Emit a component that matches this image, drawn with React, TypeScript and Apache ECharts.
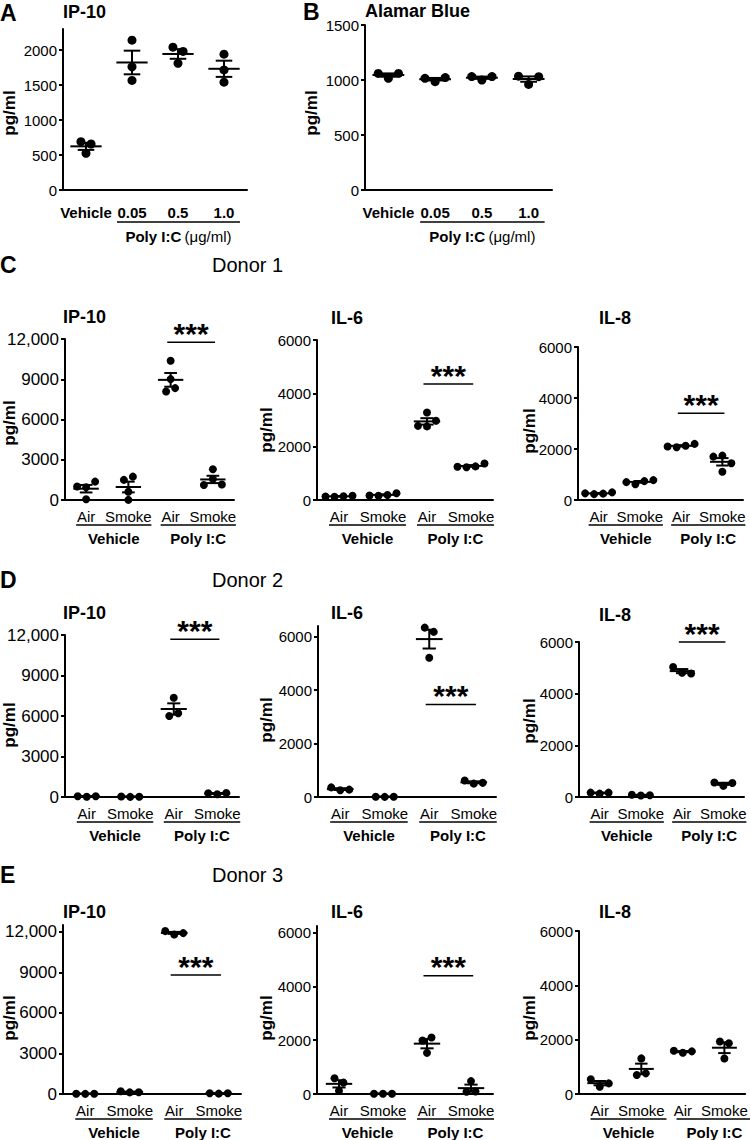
import React, { useEffect, useRef } from "react";
import * as echarts from "echarts";

// ---------- categories & tick labels ----------
const doseCategories = ["Vehicle", "0.05", "0.5", "1.0"];
const exposureCategories = ["Air", "Smoke", "Air", "Smoke"];
const treatmentGroups = ["Vehicle", "Poly I:C"];
const doseGroupLabelBold = "Poly I:C";
const doseGroupUnit = "(μg/ml)";

const ip10DoseTicks = [0, 500, 1000, 1500, 2000];
const alamarTicks = [0, 500, 1000, 1500];
const donorIP10Ticks = [0, 3000, 6000, 9000, 12000];
const donorILTicks = [0, 2000, 4000, 6000];

// ---------- values (pg/ml), one inner array per category ----------
const ip10DoseValues = [[524, 690, 657], [2140, 1760, 1565], [2040, 1980, 1810], [1940, 1715, 1540]];
const alamarBlueValues = [[1060, 1015, 1060], [1015, 985, 1022], [1031, 1000, 1031], [1035, 960, 1030]];

const donor1IP10 = [[1000, 950, 1370, 50], [1500, 1740, 620, 10], [10380, 9010, 8090, 8340], [2290, 1120, 1570, 1150]];
const donor1IL6 = [[130, 120, 140, 160], [170, 160, 190, 250], [3280, 2780, 2760, 2970], [1250, 1230, 1260, 1370]];
const donor1IL8 = [[260, 230, 250, 300], [700, 620, 740, 780], [2100, 2070, 2130, 2200], [1110, 1700, 1740, 1440]];

const donor2IP10 = [[60, 20, 50], [40, 10, 15], [7350, 6000, 6200], [280, 200, 300]];
const donor2IL6 = [[360, 250, 275], [10, 5, 10], [6340, 6180, 5210], [620, 500, 530]];
const donor2IL8 = [[170, 130, 170], [90, 60, 70], [5030, 4810, 4780], [560, 430, 540]];

const donor3IP10 = [[20, 10, 20], [200, 120, 130], [12050, 11800, 11900], [60, 30, 50]];
const donor3IL6 = [[125, 585, 423], [10, 10, 10], [1990, 2100, 1530], [85, 480, 90]];
const donor3IL8 = [[540, 270, 390], [1310, 700, 760], [1590, 1520, 1570], [1930, 1310, 1870]];

// significance bar heights (pg/ml), null = none
const donor1Sig = [11750, 4350, 3400];
const donor2Sig = [11680, 3460, 6000];
const donor3Sig = [8800, 4400, null];

const FONT = "'Liberation Sans', Arial, Helvetica, sans-serif";

type Panel = {
  values: number[][];
  cats: string[];
  ticks: number[];
  max: number;
  box: [number, number, number, number];
  title: string;
  titlePos: [number, number];
  yNamePos: [number, number];
  r: number;
  yFont: number;
  kind: "dose" | "exposure";
  sig: number | null;
  meanHalf: number;
  capHalf: number;
};

const panels: Panel[] = [
  { values: ip10DoseValues, cats: doseCategories, ticks: ip10DoseTicks, max: 2300, box: [63, 29, 184, 161], title: "IP-10", titlePos: [63, 12], yNamePos: [9, 113], r: 4.5, yFont: 15, kind: "dose", sig: null, meanHalf: 0.34, capHalf: 0.18 },
  { values: alamarBlueValues, cats: doseCategories, ticks: alamarTicks, max: 1500, box: [365, 25, 187, 165], title: "Alamar Blue", titlePos: [365, 11], yNamePos: [311, 113], r: 4.5, yFont: 15, kind: "dose", sig: null, meanHalf: 0.34, capHalf: 0.18 },

  { values: donor1IP10, cats: exposureCategories, ticks: donorIP10Ticks, max: 12000, box: [65, 339, 169, 161], title: "IP-10", titlePos: [63, 317], yNamePos: [9, 423], r: 4, yFont: 17, kind: "exposure", sig: donor1Sig[0], meanHalf: 0.3, capHalf: 0.15 },
  { values: donor1IL6, cats: exposureCategories, ticks: donorILTicks, max: 6000, box: [317, 340, 176, 160], title: "IL-6", titlePos: [331, 318], yNamePos: [266, 430], r: 4, yFont: 15, kind: "exposure", sig: donor1Sig[1], meanHalf: 0.3, capHalf: 0.15 },
  { values: donor1IL8, cats: exposureCategories, ticks: donorILTicks, max: 6000, box: [578, 347, 165, 153], title: "IL-8", titlePos: [599, 318], yNamePos: [529, 431], r: 4, yFont: 15, kind: "exposure", sig: donor1Sig[2], meanHalf: 0.3, capHalf: 0.15 },

  { values: donor2IP10, cats: exposureCategories, ticks: donorIP10Ticks, max: 12000, box: [65, 635, 174, 162], title: "IP-10", titlePos: [63, 613], yNamePos: [9, 725], r: 4, yFont: 17, kind: "exposure", sig: donor2Sig[0], meanHalf: 0.3, capHalf: 0.15 },
  { values: donor2IL6, cats: exposureCategories, ticks: donorILTicks, max: 6400, box: [318, 626, 178, 171], title: "IL-6", titlePos: [331, 613], yNamePos: [266, 720], r: 4, yFont: 15, kind: "exposure", sig: donor2Sig[1], meanHalf: 0.3, capHalf: 0.15 },
  { values: donor2IL8, cats: exposureCategories, ticks: donorILTicks, max: 6000, box: [579, 642, 165, 155], title: "IL-8", titlePos: [599, 615], yNamePos: [529, 721], r: 4, yFont: 15, kind: "exposure", sig: donor2Sig[2], meanHalf: 0.3, capHalf: 0.15 },

  { values: donor3IP10, cats: exposureCategories, ticks: donorIP10Ticks, max: 12500, box: [63, 925, 178, 169], title: "IP-10", titlePos: [63, 912], yNamePos: [9, 1018], r: 4, yFont: 17, kind: "exposure", sig: donor3Sig[0], meanHalf: 0.3, capHalf: 0.15 },
  { values: donor3IL6, cats: exposureCategories, ticks: donorILTicks, max: 6250, box: [317, 926, 176, 168], title: "IL-6", titlePos: [331, 912], yNamePos: [266, 1018], r: 4, yFont: 15, kind: "exposure", sig: donor3Sig[1], meanHalf: 0.3, capHalf: 0.15 },
  { values: donor3IL8, cats: exposureCategories, ticks: donorILTicks, max: 6000, box: [579, 931, 172, 163], title: "IL-8", titlePos: [599, 912], yNamePos: [529, 1018], r: 4, yFont: 15, kind: "exposure", sig: donor3Sig[2], meanHalf: 0.3, capHalf: 0.15 },
];

const panelLetters: [string, number, number][] = [["A", 0, 13], ["B", 303, 12], ["C", 0, 265], ["D", 0, 580], ["E", 0, 875]];
const donorLabels: [string, number, number][] = [["Donor 1", 212, 265], ["Donor 2", 212, 580], ["Donor 3", 212, 875]];

function swarm(ys: number[], r: number): number[] {
  const idx = ys.map((_, k) => k).sort((a, b) => ys[a] - ys[b]);
  const clusters: number[][] = [];
  let cur: number[] = [idx[0]];
  for (let j = 1; j < idx.length; j++) {
    if (ys[idx[j]] - ys[idx[j - 1]] < 1.9 * r) cur.push(idx[j]);
    else {
      clusters.push(cur);
      cur = [idx[j]];
    }
  }
  clusters.push(cur);
  const offs = new Array(ys.length).fill(0);
  const step = 2.25 * r;
  clusters.forEach((c) => {
    const sorted = c.slice().sort((a, b) => a - b);
    sorted.forEach((k, j) => {
      offs[k] = (j - (sorted.length - 1) / 2) * step;
    });
  });
  return offs;
}

function stats(vals: number[]) {
  const n = vals.length;
  const m = vals.reduce((a, b) => a + b, 0) / n;
  const sd = Math.sqrt(vals.reduce((a, b) => a + (b - m) * (b - m), 0) / (n - 1));
  return { m, se: sd / Math.sqrt(n) };
}

function groupRenderer(p: Panel) {
  return (params: any, api: any) => {
    const i = api.value(0);
    const vals = p.values[i];
    const { m, se } = stats(vals);
    const c = api.coord([i, m]);
    const cx = c[0];
    const ym = c[1];
    const bw = api.size([1, 0])[0];
    const yHi = api.coord([i, m + se])[1];
    const yLo = api.coord([i, m - se])[1];
    const ys = vals.map((v) => api.coord([i, v])[1]);
    const offs = swarm(ys, p.r);
    const children: any[] = [];
    ys.forEach((y, k) => {
      children.push({ type: "circle", shape: { cx: cx + offs[k], cy: y, r: p.r }, style: { fill: "#000" } });
    });
    const hw = p.meanHalf * bw;
    const cw = p.capHalf * bw;
    const ls = { stroke: "#000", lineWidth: 2 };
    children.push({ type: "line", shape: { x1: cx - hw, y1: ym, x2: cx + hw, y2: ym }, style: ls });
    children.push({ type: "line", shape: { x1: cx, y1: yHi, x2: cx, y2: yLo }, style: ls });
    children.push({ type: "line", shape: { x1: cx - cw, y1: yHi, x2: cx + cw, y2: yHi }, style: ls });
    children.push({ type: "line", shape: { x1: cx - cw, y1: yLo, x2: cx + cw, y2: yLo }, style: ls });
    return { type: "group", children };
  };
}

function sigRenderer() {
  return (params: any, api: any) => {
    const from = api.value(0);
    const v = api.value(1);
    const a = api.coord([from, v]);
    const b = api.coord([from + 1, v]);
    const bw = api.size([1, 0])[0];
    const x1 = a[0] - 0.08 * bw;
    const x2 = b[0] + 0.05 * bw;
    return {
      type: "group",
      children: [
        { type: "line", shape: { x1, y1: a[1], x2, y2: a[1] }, style: { stroke: "#000", lineWidth: 1.5 } },
        {
          type: "text",
          x: (x1 + x2) / 2,
          y: a[1] - 9,
          style: { text: "***", fill: "#000", fontFamily: FONT, fontSize: 30, fontWeight: "bold", align: "center", verticalAlign: "middle" },
        },
      ],
    };
  };
}

function txt(x: number, y: number, text: string, size: number, bold: boolean, align = "left", extra: any = {}) {
  return {
    type: "text",
    x,
    y,
    ...extra,
    style: { text, fill: "#000", fontFamily: FONT, fontSize: size, fontWeight: bold ? "bold" : "normal", align, verticalAlign: "middle" },
  };
}

function fmt(v: number) {
  return v >= 10000 ? v.toLocaleString("en-US") : String(v);
}

function buildOption() {
  const grid: any[] = [];
  const xAxis: any[] = [];
  const yAxis: any[] = [];
  const series: any[] = [];
  const graphic: any[] = [];

  panels.forEach((p, gi) => {
    const [left, top, width, height] = p.box;
    const axisY = top + height;
    grid.push({ left, top, width, height });
    const isDose = p.kind === "dose";
    xAxis.push({
      gridIndex: gi,
      type: "category",
      data: p.cats,
      axisLine: { lineStyle: { color: "#000", width: 2 } },
      axisTick: { alignWithLabel: true, length: 5, lineStyle: { color: "#000", width: 2 } },
      axisLabel: {
        interval: 0,
        color: "#000",
        fontFamily: FONT,
        fontSize: 15,
        lineHeight: 15,
        fontWeight: isDose ? "bold" : "normal",
        margin: isDose ? 14.5 : 8.5,
      },
      splitLine: { show: false },
    });
    const step = p.ticks[1] - p.ticks[0];
    yAxis.push({
      gridIndex: gi,
      type: "value",
      min: 0,
      max: p.max,
      interval: step,
      axisLine: { show: true, lineStyle: { color: "#000", width: 2 } },
      axisTick: { show: true, length: 4, lineStyle: { color: "#000", width: 2 }, customValues: p.ticks },
      axisLabel: { color: "#000", fontFamily: FONT, fontSize: p.yFont, margin: 6, customValues: p.ticks, formatter: (v: number) => fmt(v) },
      splitLine: { show: false },
    });
    series.push({
      type: "custom",
      xAxisIndex: gi,
      yAxisIndex: gi,
      renderItem: groupRenderer(p),
      encode: { x: 0, y: 1 },
      data: p.values.map((vals, i) => [i, stats(vals).m]),
      z: 5,
    });
    if (p.sig !== null) {
      series.push({
        type: "custom",
        xAxisIndex: gi,
        yAxisIndex: gi,
        renderItem: sigRenderer(),
        encode: { x: 0, y: 1 },
        data: [[2, p.sig]],
        z: 5,
      });
    }

    graphic.push(txt(p.titlePos[0], p.titlePos[1], p.title, 18, true));
    graphic.push(txt(p.yNamePos[0], p.yNamePos[1], "pg/ml", 17, true, "center", { rotation: Math.PI / 2 }));

    const c = p.cats.map((_, i) => left + (width * (i + 0.5)) / p.cats.length);
    if (isDose) {
      const ux1 = c[1] - 15;
      const ux2 = c[3] + 16;
      graphic.push({ type: "line", shape: { x1: ux1, y1: axisY + 32, x2: ux2, y2: axisY + 32 }, style: { stroke: "#000", lineWidth: 1.5 } });
      graphic.push({
        type: "text",
        x: (ux1 + ux2) / 2,
        y: axisY + 46,
        style: {
          text: `{b|${doseGroupLabelBold}} {n|${doseGroupUnit}}`,
          fill: "#000",
          align: "center",
          verticalAlign: "middle",
          rich: {
            b: { fontFamily: FONT, fontSize: 15, fontWeight: "bold", fill: "#000" },
            n: { fontFamily: FONT, fontSize: 15, fontWeight: "normal", fill: "#000" },
          },
        },
      });
    } else {
      [0, 1].forEach((g) => {
        const a = c[2 * g] - 10;
        const b = c[2 * g + 1] + 23;
        graphic.push({ type: "line", shape: { x1: a, y1: axisY + 25, x2: b, y2: axisY + 25 }, style: { stroke: "#000", lineWidth: 1.5 } });
        graphic.push(txt((a + b) / 2, axisY + 38, treatmentGroups[g], 15, true, "center"));
      });
    }
  });

  panelLetters.forEach(([t, x, y]) => graphic.push(txt(x, y, t, 23, true)));
  donorLabels.forEach(([t, x, y]) => graphic.push(txt(x, y, t, 20, false)));

  return {
    animation: false,
    backgroundColor: "#fff",
    textStyle: { fontFamily: FONT },
    grid,
    xAxis,
    yAxis,
    series,
    graphic: { elements: graphic },
  };
}

export default function App() {
  const ref = useRef<HTMLDivElement>(null);
  useEffect(() => {
    document.body.style.margin = "0";
    const chart = echarts.init(ref.current!, null, { renderer: "svg", width: 750, height: 1140 });
    chart.setOption(buildOption() as any);
    return () => chart.dispose();
  }, []);
  return <div ref={ref} style={{ width: 750, height: 1140, background: "#fff" }} />;
}
